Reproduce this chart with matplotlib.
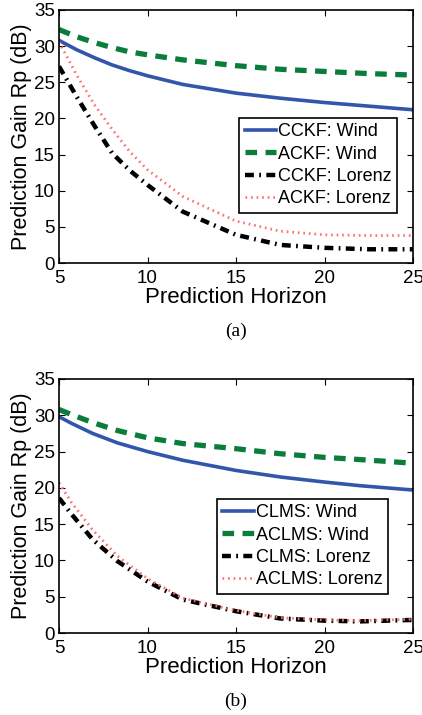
import matplotlib
matplotlib.use("Agg")
import matplotlib.pyplot as plt
from matplotlib.ticker import MultipleLocator

plt.rcParams['font.family'] = ['Liberation Sans', 'DejaVu Sans']

# == data ==
horizon_a = [5, 6, 7, 8, 9, 10, 12, 15, 17.5, 20, 22.5, 25]
cckf_wind = [30.8, 29.5, 28.4, 27.4, 26.6, 25.9, 24.7, 23.5, 22.8, 22.2, 21.7, 21.2]
ackf_wind = [32.3, 31.3, 30.5, 29.8, 29.2, 28.8, 28.1, 27.3, 26.8, 26.5, 26.2, 26.0]
cckf_lorenz = [27.2, 23.0, 19.0, 15.2, 12.8, 10.8, 7.1, 3.9, 2.5, 2.1, 1.9, 1.9]
ackf_lorenz = [30.6, 26.0, 21.9, 18.5, 15.4, 12.9, 9.2, 5.8, 4.4, 3.9, 3.8, 3.8]

horizon_b = [5, 5.7, 6.9, 8.3, 10, 12, 15, 17.5, 20, 22, 25]
clms_wind = [29.8, 28.9, 27.5, 26.2, 25.0, 23.8, 22.4, 21.5, 20.8, 20.3, 19.7]
aclms_wind = [30.8, 30.1, 29.0, 27.9, 26.9, 26.1, 25.4, 24.7, 24.2, 23.9, 23.4]
clms_lorenz = [18.6, 16.4, 12.9, 9.9, 7.1, 4.6, 3.0, 2.0, 1.7, 1.6, 1.8]
aclms_lorenz = [20.7, 18.0, 14.2, 10.6, 7.5, 4.8, 3.1, 2.1, 1.8, 1.7, 1.9]

labels_a = ["CCKF: Wind", "ACKF: Wind", "CCKF: Lorenz", "ACKF: Lorenz"]
labels_b = ["CLMS: Wind", "ACLMS: Wind", "CLMS: Lorenz", "ACLMS: Lorenz"]

STYLES = [
    dict(color="#3355aa", ls="-", lw=2.6),
    dict(color="#0b7d3b", ls=(0, (2.2, 1.6)), lw=3.8),
    dict(color="black", ls=(0, (2.0, 1.2, 0.4, 1.2)), lw=3.2),
    dict(color="#ff7070", ls=(0, (0.6, 1.4)), lw=2.0),
]


def panel(ax, x, series, labels, legend_anchor, caption):
    for ys, lab, st in zip(series, labels, STYLES):
        ax.plot(x, ys, label=lab, **st)
    ax.set_xlim(5, 25)
    ax.set_ylim(0, 35)
    ax.xaxis.set_major_locator(MultipleLocator(5))
    ax.yaxis.set_major_locator(MultipleLocator(5))
    ax.tick_params(direction="in", top=True, right=True, labelsize=13.5, length=4)
    ax.tick_params(axis="x", pad=5)
    ax.tick_params(axis="y", pad=3)
    for sp in ax.spines.values():
        sp.set_linewidth(1.2)
    ax.set_xlabel("Prediction Horizon", fontsize=16, labelpad=0)
    ax.set_ylabel("Prediction Gain Rp (dB)", fontsize=15.5, labelpad=1)
    leg = ax.legend(loc="lower right", bbox_to_anchor=legend_anchor, fontsize=13,
                    handlelength=1.75, handletextpad=0.1, labelspacing=0.3,
                    borderpad=0.3, borderaxespad=0, fancybox=False, framealpha=1)
    leg.get_frame().set_edgecolor("black")
    leg.get_frame().set_linewidth(1.2)
    ax.text(0.5, -0.27, caption, transform=ax.transAxes, ha="center", va="center",
            fontsize=14, family="Liberation Serif")


fig = plt.figure(figsize=(4.22, 7.15), dpi=100)
W, H = 422, 715
ax_a = fig.add_axes([59 / W, 1 - 263 / H, 354 / W, 253 / H])
ax_b = fig.add_axes([59 / W, 1 - 633 / H, 354 / W, 254 / H])

panel(ax_a, horizon_a, [cckf_wind, ackf_wind, cckf_lorenz, ackf_lorenz], labels_a,
      (0.955, 0.198), "(a)")
panel(ax_b, horizon_b, [clms_wind, aclms_wind, clms_lorenz, aclms_lorenz], labels_b,
      (0.929, 0.154), "(b)")

fig.savefig("out.png", dpi=100)
